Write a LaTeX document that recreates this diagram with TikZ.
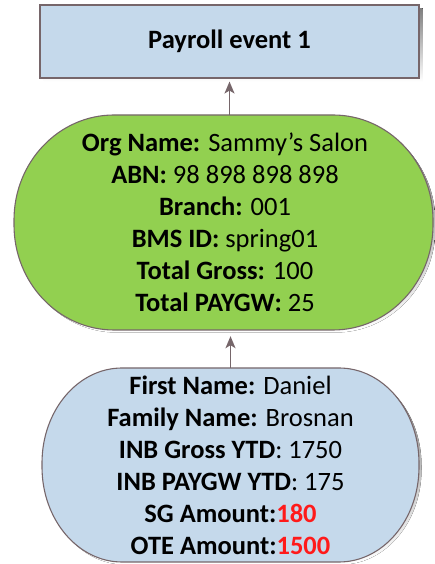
\documentclass[tikz,border=0pt]{standalone}
\usepackage{fontspec}
\setmainfont{Carlito}
\usetikzlibrary{arrows.meta}
\definecolor{edge}{HTML}{76666A}
\definecolor{boxblue}{HTML}{C5D9EB}
\definecolor{orggreen}{HTML}{92D050}
\definecolor{shade}{HTML}{C8C8C8}
\definecolor{amount}{HTML}{FF1A1A}
\tikzset{
  outline/.style={draw=edge, line width=1.1pt},
  textblock/.style={align=center, inner sep=0pt, font=\fontsize{26.5}{32}\selectfont},
  arr/.style={draw=edge, line width=1.5pt, -{Stealth[length=12pt,width=10pt,inset=3pt]}},
}
% stadium-like outline: centre (#1,#2), half sizes #3,#4, corner radii #5,#6
\newcommand{\pillpath}[6]{
  (#1-#3+#5,#2+#4) -- (#1+#3-#5,#2+#4)
  arc[start angle=90,end angle=0,x radius=#5,y radius=#6]
  -- (#1+#3,#2-#4+#6)
  arc[start angle=0,end angle=-90,x radius=#5,y radius=#6]
  -- (#1-#3+#5,#2-#4)
  arc[start angle=270,end angle=180,x radius=#5,y radius=#6]
  -- (#1-#3,#2+#4-#6)
  arc[start angle=180,end angle=90,x radius=#5,y radius=#6] -- cycle}
\begin{document}
\begin{tikzpicture}[x=1pt,y=1pt]
\useasboundingbox (0,0) rectangle (434,564);

% payroll event box
\fill[shade] (43.5,482.5) rectangle (422.5,555.5);
\node[outline, fill=boxblue, minimum width=379pt, minimum height=73pt,
      inner sep=0pt, font=\bfseries\fontsize{26.5}{32}\selectfont]
  (event) at (229.5,522.5) {Payroll event 1};

% organisation record
\fill[shade] \pillpath{226}{339}{209.5}{107.5}{100}{105};
\draw[outline, fill=orggreen] \pillpath{223.5}{341.5}{209.5}{107.5}{100}{105};
\node[textblock, minimum width=419pt, minimum height=215pt] (org) at (225,341.5) {%
  \textbf{Org Name:} Sammy’s Salon\\
  \textbf{ABN:} 98 898 898 898\\
  \textbf{Branch:} 001\\
  \textbf{BMS ID:} spring01\\
  \textbf{Total Gross:} 100\\
  \textbf{Total PAYGW:} 25};

% employee record
\fill[shade] \pillpath{233}{96.5}{188.5}{97}{80}{95};
\draw[outline, fill=boxblue] \pillpath{230.5}{99}{188.5}{97}{80}{95};
\node[textblock, minimum width=377pt, minimum height=194pt] (emp) at (230.5,99) {%
  \textbf{First Name:} Daniel\\
  \textbf{Family Name:} Brosnan\\
  \textbf{INB Gross YTD}: 1750\\
  \textbf{INB PAYGW YTD}: 175\\
  \textbf{SG Amount:}\textcolor{amount}{\textbf{180}}\\
  \textbf{OTE Amount:}\textcolor{amount}{\textbf{1500}}};

% connectors
\draw[arr, shorten >=3pt] (org.north -| event.south) -- (event.south);
\draw[arr, shorten >=6pt] (emp.north) -- (emp.north |- org.south);
\end{tikzpicture}
\end{document}
